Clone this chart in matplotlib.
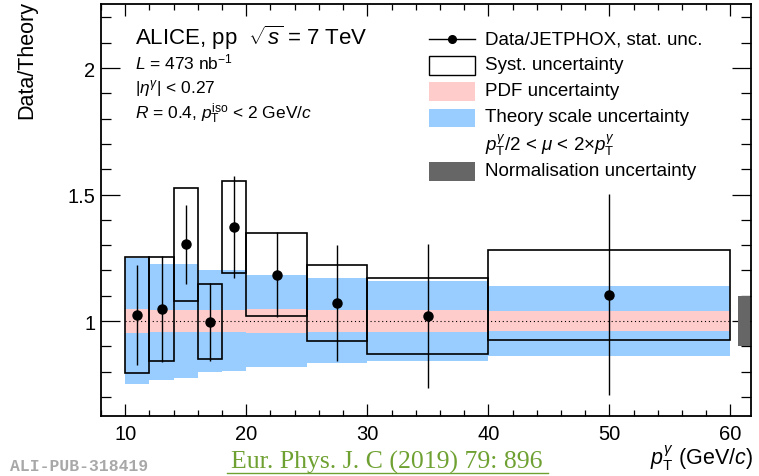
import numpy as np
import matplotlib
matplotlib.use("Agg")
import matplotlib.pyplot as plt
from matplotlib.lines import Line2D
from matplotlib.patches import Rectangle
from matplotlib.ticker import MultipleLocator, FixedLocator, FuncFormatter

plt.rcParams['font.family'] = ['Liberation Sans', 'DejaVu Sans']
plt.rcParams['mathtext.fontset'] = 'custom'
plt.rcParams['mathtext.rm'] = 'Liberation Sans'
plt.rcParams['mathtext.it'] = 'Liberation Sans:italic'
plt.rcParams['mathtext.bf'] = 'Liberation Sans:bold'

# pT bins (GeV/c)
bin_lo = [10, 12, 14, 16, 18, 20, 25, 30, 40]
bin_hi = [12, 14, 16, 18, 20, 25, 30, 40, 60]
pt = [11, 13, 15, 17, 19, 22.5, 27.5, 35, 50]

# data / JETPHOX ratio with uncertainties
ratio = [1.024, 1.047, 1.303, 0.997, 1.372, 1.184, 1.071, 1.020, 1.104]
stat = [0.197, 0.209, 0.156, 0.155, 0.202, 0.168, 0.228, 0.285, 0.397]
syst = [0.228, 0.205, 0.223, 0.148, 0.183, 0.165, 0.150, 0.150, 0.178]

# theory bands around 1
scale_up = [1.250, 1.224, 1.224, 1.200, 1.200, 1.183, 1.169, 1.158, 1.138]
scale_dn = [0.750, 0.767, 0.777, 0.800, 0.804, 0.817, 0.833, 0.842, 0.862]
pdf_unc = [0.046, 0.045, 0.045, 0.044, 0.044, 0.047, 0.045, 0.043, 0.038]
norm_unc = 0.1

blue = '#99ccff'
pink = '#ffcccc'
grey = '#666666'

lo = np.array(bin_lo, dtype=float)
hi = np.array(bin_hi, dtype=float)
w = hi - lo
r = np.array(ratio)
sy = np.array(syst)
su = np.array(scale_up)
sd = np.array(scale_dn)
pu = np.array(pdf_unc)

fig = plt.figure(figsize=(7.59, 4.77), dpi=100)
ax = fig.add_axes([101 / 759, 1 - 417 / 477, 650 / 759, 412 / 477])

ax.bar(lo, su - sd, width=w, bottom=sd, align='edge', color=blue, linewidth=0, zorder=1)
ax.bar(lo, 2 * pu, width=w, bottom=1 - pu, align='edge', color=pink, linewidth=0, zorder=2)
ax.plot([bin_lo[0], bin_hi[-1]], [1, 1], color='black', linestyle=(0, (1, 2.5)), linewidth=0.8, zorder=3)
ax.bar(lo, 2 * sy, width=w, bottom=r - sy, align='edge', fill=False,
       edgecolor='black', linewidth=1.2, zorder=4)
ax.errorbar(pt, r, yerr=stat, fmt='o', color='black', markersize=6.5,
            elinewidth=1.0, capsize=0, zorder=5)
# normalisation box at the right edge
ax.bar([60.6], [2 * norm_unc], width=1.0, bottom=1 - norm_unc, align='edge',
       color=grey, linewidth=0, zorder=2)

ax.set_xlim(8.0, 61.7)
ax.set_ylim(0.625, 2.253)

ax.xaxis.set_major_locator(MultipleLocator(10))
ax.xaxis.set_minor_locator(MultipleLocator(2))
ax.yaxis.set_major_locator(FixedLocator([1, 1.5, 2]))
ax.yaxis.set_minor_locator(MultipleLocator(0.1))
ax.yaxis.set_major_formatter(FuncFormatter(lambda v, p: '%g' % v))

ax.tick_params(axis='both', which='both', direction='in', top=True, right=True,
               width=0.9, labelsize=14.5)
ax.tick_params(axis='x', which='major', length=8.5, pad=6)
ax.tick_params(axis='x', which='minor', length=4.5)
ax.tick_params(axis='y', which='major', length=14, pad=4)
ax.tick_params(axis='y', which='minor', length=7)
for s in ax.spines.values():
    s.set_linewidth(1.3)


def fx(x):
    return x / 759


def fy(y):
    return 1 - y / 477


fig.text(fx(27), fy(1), 'Data/Theory', rotation=90, ha='center', va='top', fontsize=15.5)
fig.text(fx(753), fy(458), r'$p_{\mathrm{T}}^{\gamma}$ (GeV/$c$)', ha='right', va='center', fontsize=15.5)

fig.text(fx(135), fy(38), r'ALICE, pp  $\sqrt{s}$ = 7 TeV', ha='left', va='center', fontsize=16)
fig.text(fx(135), fy(62), r'$L$ = 473 nb$^{-1}$', ha='left', va='center', fontsize=12.5)
fig.text(fx(135), fy(88), r'|$\eta^{\gamma}$| < 0.27', ha='left', va='center', fontsize=12.5)
fig.text(fx(135), fy(114), r'$R$ = 0.4, $p_{\mathrm{T}}^{\mathrm{iso}}$ < 2 GeV/$c$',
         ha='left', va='center', fontsize=12.5)

# legend, drawn by hand in figure pixels
sx0, sx1, tx = 429, 475, 485
fig.add_artist(Line2D([fx(sx0), fx(sx1)], [fy(40), fy(40)], color='black', linewidth=1.0))
fig.add_artist(Line2D([fx(452)], [fy(40)], marker='o', color='black', markersize=5.5))
boxes = [(57, 76, 'white', 'black'), (83, 102, pink, 'none'),
         (110, 128, blue, 'none'), (163, 182, grey, 'none')]
for y0, y1, fc, ec in boxes:
    fig.add_artist(Rectangle((fx(sx0), fy(y1)), fx(sx1) - fx(sx0), fy(y0) - fy(y1),
                             transform=fig.transFigure, facecolor=fc, edgecolor=ec, linewidth=1.0))
leg_text = [(40, 'Data/JETPHOX, stat. unc.'),
            (66, 'Syst. uncertainty'),
            (92, 'PDF uncertainty'),
            (118, 'Theory scale uncertainty'),
            (145, r'$p_{\mathrm{T}}^{\gamma}$/2 < $\mu$ < 2$\times p_{\mathrm{T}}^{\gamma}$'),
            (172, 'Normalisation uncertainty')]
for y, t in leg_text:
    fig.text(fx(tx), fy(y), t, ha='left', va='center', fontsize=13.5)

# footer
fig.text(fx(10), fy(467), 'ALI-PUB-318419', ha='left', va='center', fontsize=11.8,
         family='Liberation Mono', weight='bold', color='#a8a8a8')
green = '#6fa132'
fig.text(fx(387), fy(462), 'Eur. Phys. J. C (2019) 79: 896', ha='center', va='center',
         fontsize=18.5, family='Liberation Serif', color=green)
fig.add_artist(Line2D([fx(227), fx(548)], [fy(474), fy(474)], color=green, linewidth=1.0))

fig.savefig('out.png', dpi=100)
